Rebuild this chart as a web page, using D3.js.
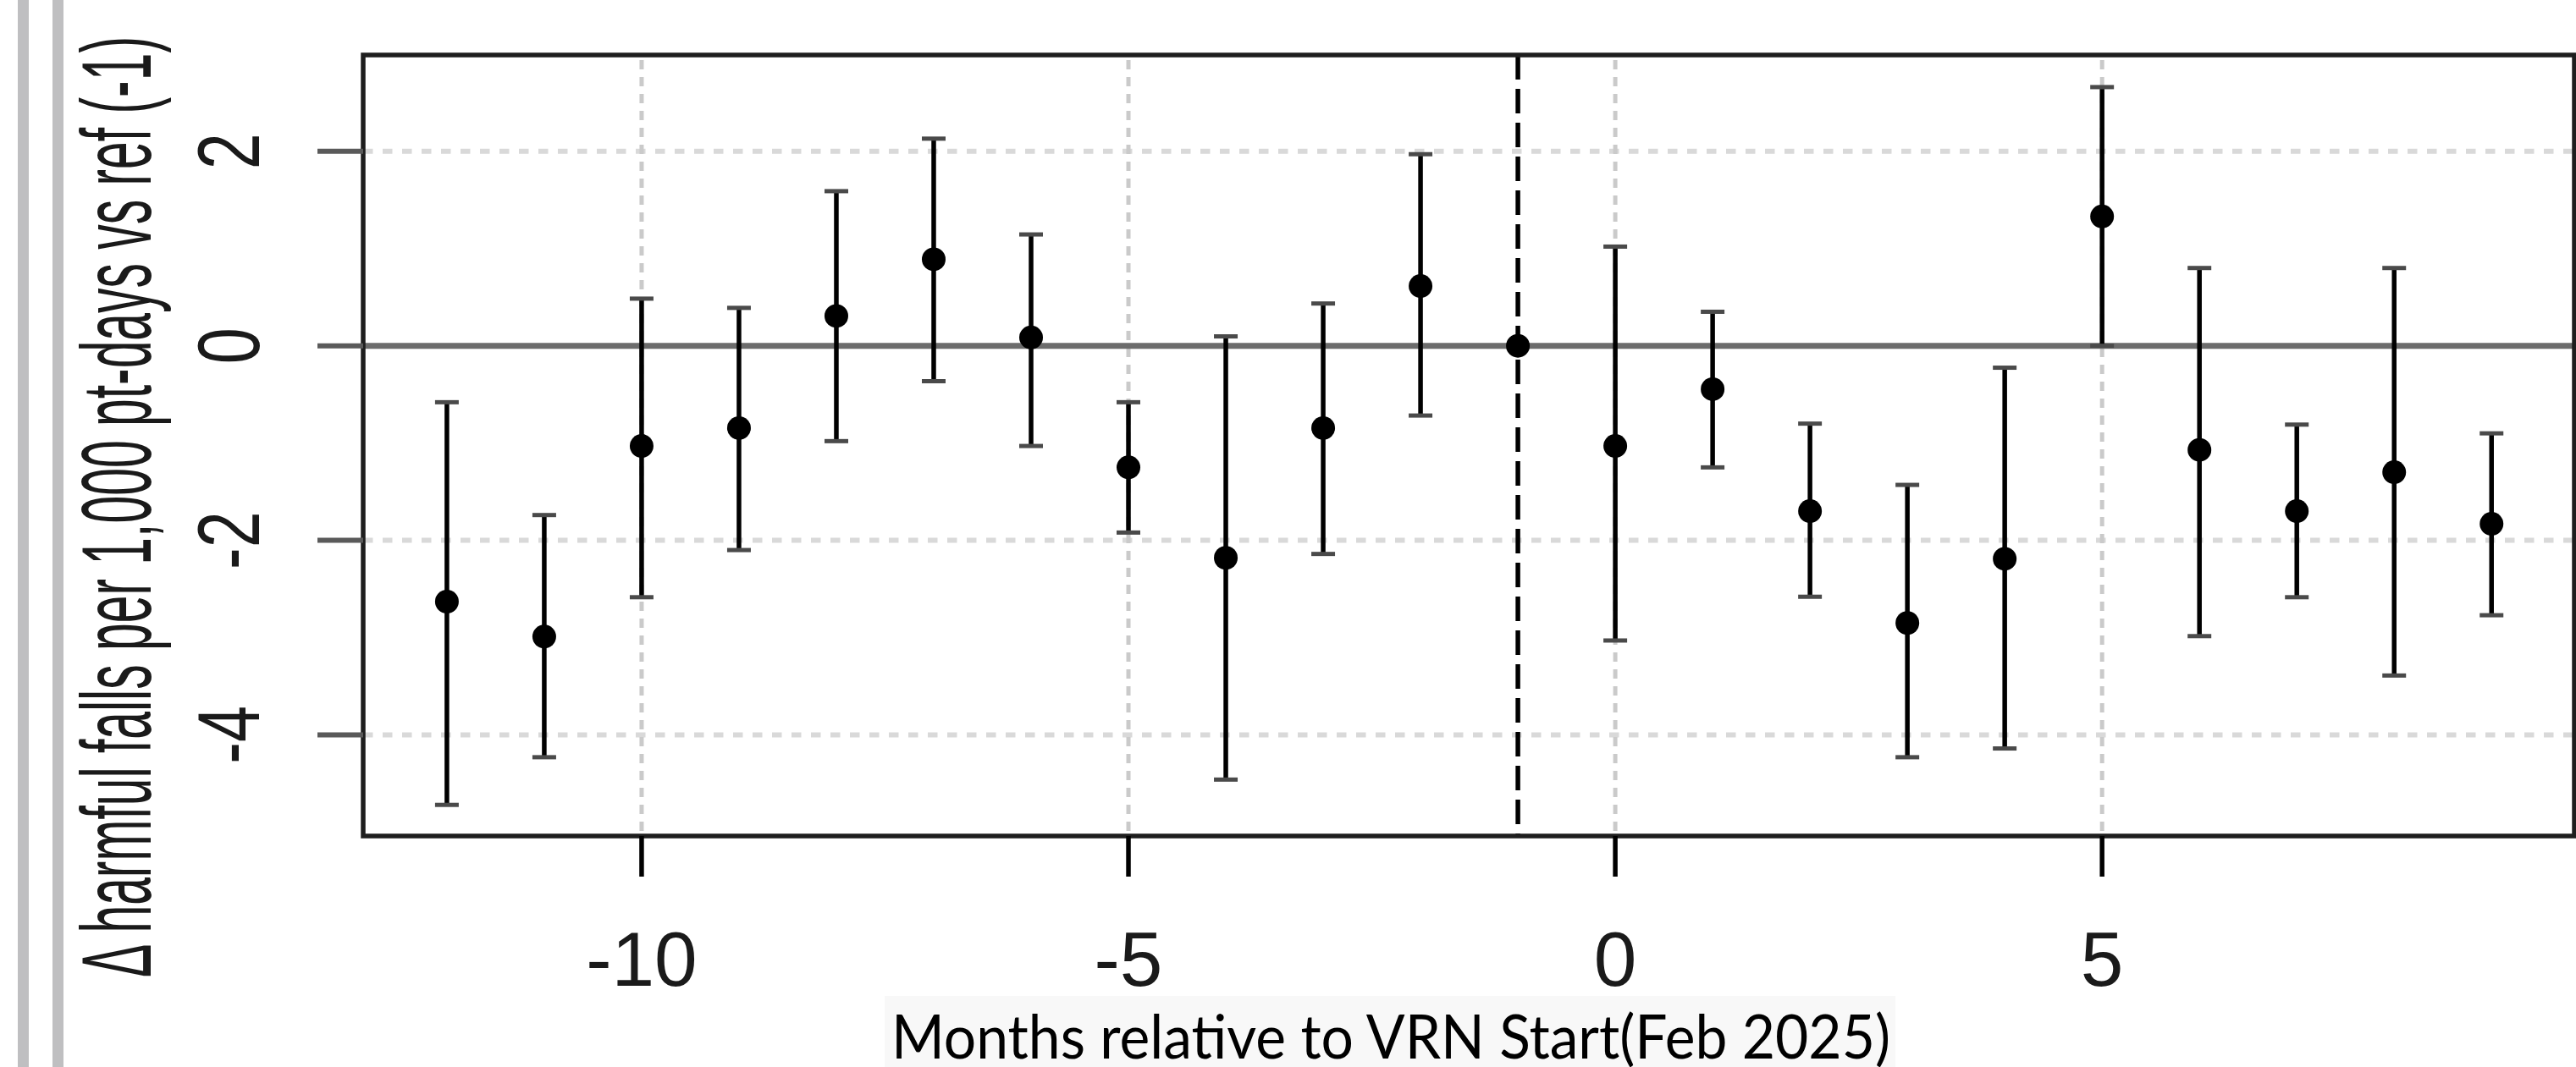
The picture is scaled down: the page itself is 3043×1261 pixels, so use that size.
<!DOCTYPE html>
<html>
<head>
<meta charset="utf-8">
<script src="https://cdn.jsdelivr.net/npm/d3@7"></script>
<style>
  html, body { margin: 0; padding: 0; background: #ffffff; overflow: hidden; }
  svg { display: block; }
</style>
</head>
<body>
<script>
// ---- data ----
const months    = [-12, -11, -10, -9, -8, -7, -6, -5, -4, -3, -2, -1, 0, 1, 2, 3, 4, 5, 6, 7, 8, 9];
const estimates = [-2.63, -2.99, -1.03, -0.846, 0.307, 0.89, 0.086, -1.25, -2.18, -0.846, 0.614, 0, -1.03, -0.446, -1.70, -2.85, -2.19, 1.33, -1.07, -1.70, -1.30, -1.83];
const lowerCI   = [-4.72, -4.23, -2.585, -2.10, -0.98, -0.364, -1.03, -1.92, -4.46, -2.14, -0.717, null, -3.03, -1.25, -2.58, -4.23, -4.14, 0.0, -2.985, -2.585, -3.39, -2.77];
const upperCI   = [-0.58, -1.74, 0.485, 0.39, 1.59, 2.13, 1.145, -0.58, 0.097, 0.435, 1.97, null, 1.02, 0.35, -0.80, -1.43, -0.225, 2.66, 0.80, -0.81, 0.80, -0.90];
const xTicks = [-10, -5, 0, 5];
const yTicks = [-4, -2, 0, 2];
const xTickLabels = ["-10", "-5", "0", "5"];
const yTickLabels = ["-4", "-2", "0", "2"];
const refMonth = -1;
const yTitle = "\u0394 harmful falls per 1,000 pt-days vs ref (-1)";
const xTitle = "Months relative to VRN Start(Feb 2025)";

const W = 3043, H = 1261;
const plot = { left: 429, right: 3041, top: 65, bottom: 988 };

const svg = d3.select("body").append("svg").attr("width", W).attr("height", H);
svg.append("rect").attr("width", W).attr("height", H).attr("fill", "#fff");

// decorative gray bars on the far left
svg.append("rect").attr("x", 21).attr("y", 0).attr("width", 13).attr("height", H).attr("fill", "#bfbfc1");
svg.append("rect").attr("x", 62).attr("y", 0).attr("width", 13).attr("height", H).attr("fill", "#bfbfc1");

const x = d3.scaleLinear().domain([-12.86, 9.85]).range([plot.left, plot.right]);
const y = d3.scaleLinear().domain([-5.04, 2.99]).range([plot.bottom, plot.top]);

const data = months.map((m, i) => ({ m, est: estimates[i], lo: lowerCI[i], hi: upperCI[i] }));

// grid lines
const g = svg.append("g");
g.selectAll("line.hgrid").data(yTicks.filter(v => v !== 0)).enter().append("line")
  .attr("x1", plot.left).attr("x2", plot.right)
  .attr("y1", d => y(d)).attr("y2", d => y(d))
  .attr("stroke", "#d9d9d9").attr("stroke-width", 6).attr("stroke-dasharray", "11.5 11.5");
g.selectAll("line.vgrid").data(xTicks).enter().append("line")
  .attr("x1", d => x(d)).attr("x2", d => x(d))
  .attr("y1", plot.top + 6).attr("y2", plot.bottom)
  .attr("stroke", "#cacaca").attr("stroke-width", 5).attr("stroke-dasharray", "11 9");

// zero line
g.append("line").attr("x1", plot.left).attr("x2", plot.right)
  .attr("y1", y(0)).attr("y2", y(0))
  .attr("stroke", "#6c6c6c").attr("stroke-width", 7);

// reference dashed vertical line
g.append("line").attr("x1", x(refMonth)).attr("x2", x(refMonth))
  .attr("y1", plot.top).attr("y2", plot.bottom)
  .attr("stroke", "#000").attr("stroke-width", 5.5).attr("stroke-dasharray", "29 11");

// error bars
const ci = data.filter(d => d.lo !== null && d.hi !== null);
const capHalf = 14;
g.selectAll("line.bar").data(ci).enter().append("line")
  .attr("x1", d => x(d.m)).attr("x2", d => x(d.m))
  .attr("y1", d => y(d.lo)).attr("y2", d => y(d.hi))
  .attr("stroke", "#000").attr("stroke-width", 5.5);
g.selectAll("line.capHi").data(ci).enter().append("line")
  .attr("x1", d => x(d.m) - capHalf).attr("x2", d => x(d.m) + capHalf)
  .attr("y1", d => y(d.hi)).attr("y2", d => y(d.hi))
  .attr("stroke", "#4a4a4a").attr("stroke-width", 5);
g.selectAll("line.capLo").data(ci).enter().append("line")
  .attr("x1", d => x(d.m) - capHalf).attr("x2", d => x(d.m) + capHalf)
  .attr("y1", d => y(d.lo)).attr("y2", d => y(d.lo))
  .attr("stroke", "#4a4a4a").attr("stroke-width", 5);

// points
g.selectAll("circle.pt").data(data).enter().append("circle")
  .attr("cx", d => x(d.m)).attr("cy", d => y(d.est)).attr("r", 14)
  .attr("fill", "#000");

// plot box
svg.append("rect").attr("x", plot.left).attr("y", plot.top)
  .attr("width", plot.right - plot.left).attr("height", plot.bottom - plot.top)
  .attr("fill", "none").attr("stroke", "#1e1e1e").attr("stroke-width", 5.5);

// x axis ticks and labels
svg.selectAll("line.xtick").data(xTicks).enter().append("line")
  .attr("x1", d => x(d)).attr("x2", d => x(d))
  .attr("y1", plot.bottom).attr("y2", plot.bottom + 48)
  .attr("stroke", "#000").attr("stroke-width", 5.5);
svg.selectAll("text.xlab").data(xTicks).enter().append("text")
  .attr("x", d => x(d)).attr("y", 1165)
  .attr("text-anchor", "middle")
  .attr("font-family", "'Liberation Sans', Arial, sans-serif")
  .attr("font-size", 91).attr("fill", "#1a1a1a")
  .text((d, i) => xTickLabels[i]);

// y axis ticks and labels
svg.selectAll("line.ytick").data(yTicks).enter().append("line")
  .attr("x1", 375).attr("x2", plot.left)
  .attr("y1", d => y(d)).attr("y2", d => y(d))
  .attr("stroke", "#5a5a5a").attr("stroke-width", 6);
svg.selectAll("text.ylab").data(yTicks).enter().append("text")
  .attr("transform", d => `translate(306,${y(d)}) rotate(-90) scale(0.75,1)`)
  .attr("text-anchor", "middle")
  .attr("font-family", "'Liberation Sans', Arial, sans-serif")
  .attr("font-size", 103).attr("fill", "#1a1a1a")
  .text((d, i) => yTickLabels[i]);

// y title
svg.append("text")
  .attr("transform", "translate(178,599) rotate(-90)")
  .attr("text-anchor", "middle")
  .attr("font-family", "'Liberation Sans', Arial, sans-serif")
  .attr("font-size", 116).attr("fill", "#1a1a1a")
  .attr("textLength", 1112).attr("lengthAdjust", "spacingAndGlyphs")
  .text(yTitle);

// x title with light background
svg.append("rect").attr("x", 1045).attr("y", 1177).attr("width", 1194).attr("height", H - 1177)
  .attr("fill", "#f8f8f8");
svg.append("text")
  .attr("x", 1053).attr("y", 1251)
  .attr("font-family", "Lato, 'Open Sans', sans-serif")
  .attr("font-size", 71).attr("fill", "#000")
  .attr("textLength", 1180).attr("lengthAdjust", "spacingAndGlyphs")
  .text(xTitle);
</script>
</body>
</html>
